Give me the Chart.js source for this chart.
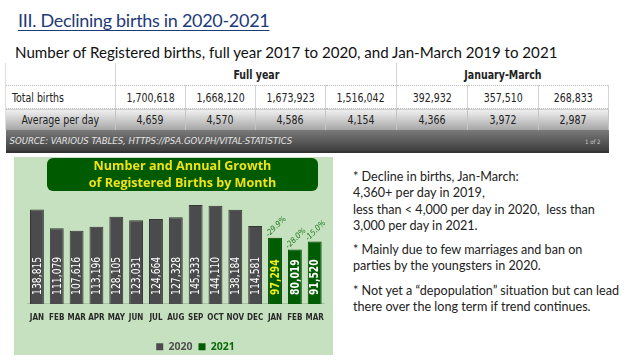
<!DOCTYPE html>
<html>
<head>
<meta charset="utf-8">
<script src="https://cdn.jsdelivr.net/npm/chart.js@4.4.1/dist/chart.umd.min.js"></script>
<style>
  html,body{margin:0;padding:0;background:#fff;}
  body{width:640px;height:362px;position:relative;overflow:hidden;font-family:'Lato','Open Sans',sans-serif;}
  #title{position:absolute;left:18px;top:9px;font-size:18px;letter-spacing:-0.3px;color:#1f3a78;text-decoration:underline;text-underline-offset:3px;white-space:nowrap;}
  #subtitle{position:absolute;left:15px;top:43px;font-size:15.1px;color:#111;white-space:nowrap;}
  table{position:absolute;left:5px;top:63px;border-collapse:collapse;table-layout:fixed;width:603px;
        font-family:'DejaVu Sans Condensed','Liberation Sans Narrow',sans-serif;font-size:12.5px;color:#222;}
  td{padding:0;text-align:center;white-space:nowrap;overflow:hidden;}
  td span.c{display:inline-block;transform:scaleX(0.84);}
  td span.l{display:inline-block;transform:scaleX(0.84);transform-origin:left center;}
  tr.h td{height:22px;font-weight:bold;border-bottom:1px dotted #bbb;}
  tr.t td{height:22px;border-bottom:1px dotted #bbb;border-right:1px solid #d4d4d4;}
  tr.a td{height:21px;background:linear-gradient(#f2f2f2,#a4a4a4);border-right:1px solid #c4c4c4;}
  tr.s td{height:21px;background:linear-gradient(#7a7a7a,#3e3e3e);color:#e4e4e4;font-style:italic;font-size:9.5px;text-align:left;padding-left:4px;border-bottom:2px solid #333;}
  .br{border-right:1px solid #d4d4d4;}
  #panel{position:absolute;left:14px;top:157px;width:319px;height:198px;background:#c6e1bf;}
  #chart{position:absolute;left:14px;top:157px;}
  #ctitle{position:absolute;left:47px;top:158px;width:271px;height:33px;background:#005a00;border-radius:6px;color:#f0e21a;
          font-family:'Open Sans',sans-serif;font-weight:bold;font-size:12.6px;line-height:16.5px;text-align:center;padding-top:0px;box-sizing:border-box;}
  #notes{position:absolute;left:353px;top:169px;width:287px;font-family:'Lato',sans-serif;font-size:12.6px;line-height:16.3px;color:#222;white-space:nowrap;}
  #notes p{margin:0 0 8px 0;}
</style>
</head>
<body>
<div id="title">III. Declining births in 2020-2021</div>
<div id="subtitle">Number of Registered births, full year 2017 to 2020, and Jan-March 2019 to 2021</div>

<table>
  <colgroup><col style="width:110px"><col style="width:70px"><col style="width:70px"><col style="width:70px"><col style="width:71px"><col style="width:71px"><col style="width:71px"><col style="width:70px"></colgroup>
  <tr class="h"><td class="br" style="border-left:1px solid #ddd"></td><td colspan="4" class="br"><span class="c">Full year</span></td><td colspan="3"><span class="c">January-March</span></td></tr>
  <tr class="t" id="rowTotal"></tr>
  <tr class="a" id="rowAvg"></tr>
  <tr class="s"><td colspan="8"><span>SOURCE: VARIOUS TABLES, HTTPS://PSA.GOV.PH/VITAL-STATISTICS</span><span style="float:right;font-size:6px;font-style:normal;padding-right:8px;padding-top:3px;color:#ccc">1 of 2</span></td></tr>
</table>

<div id="panel"></div>
<canvas id="chart" width="319" height="205"></canvas>
<div id="ctitle">Number and Annual Growth<br>of Registered Births by Month</div>

<div id="notes">
<p>* Decline in births, Jan-March:<br>4,360+ per day in 2019,<br>less than &lt; 4,000 per day in 2020,&nbsp; less than<br>3,000 per day in 2021.</p>
<p>* Mainly due to few marriages and ban on<br>parties by the youngsters in 2020.</p>
<p>* Not yet a “depopulation” situation but can lead<br>there over the long term if trend continues.</p>
</div>

<script>
// ---- table data ----
const tableRowLabels = ['Total births', 'Average per day'];
const totalBirths = ['1,700,618', '1,668,120', '1,673,923', '1,516,042', '392,932', '357,510', '268,833'];
const averagePerDay = ['4,659', '4,570', '4,586', '4,154', '4,366', '3,972', '2,987'];

// ---- chart data ----
const months = ['JAN','FEB','MAR','APR','MAY','JUN','JUL','AUG','SEP','OCT','NOV','DEC','JAN','FEB','MAR'];
const births2020 = [138815, 111079, 107616, 113196, 128105, 123031, 124664, 127328, 145333, 144110, 138184, 114581, null, null, null];
const births2021 = [null, null, null, null, null, null, null, null, null, null, null, null, 97294, 80019, 91520];
const growth2021 = [null, null, null, null, null, null, null, null, null, null, null, null, '-29.9%', '-28.0%', '-15.0%'];

function fillRow(id, label, vals, leftAlign) {
  const tr = document.getElementById(id);
  const first = document.createElement('td');
  first.innerHTML = '<span class="' + (leftAlign ? 'l' : 'c') + '"></span>';
  first.firstChild.textContent = label;
  first.style.borderLeft = '1px solid #ddd';
  if (leftAlign) { first.style.textAlign = 'left'; first.style.paddingLeft = '6px'; }
  tr.appendChild(first);
  vals.forEach((v) => {
    const td = document.createElement('td');
    td.innerHTML = '<span class="c"></span>';
    td.firstChild.textContent = v;
    tr.appendChild(td);
  });
}
fillRow('rowTotal', tableRowLabels[0], totalBirths, true);
fillRow('rowAvg', tableRowLabels[1], averagePerDay, false);

const FONT = '"DejaVu Sans Condensed", "Liberation Sans Narrow", sans-serif';

const valueLabels = {
  id: 'valueLabels',
  afterLayout(chart) {
    if (chart.legend) { chart.legend.left += 18; chart.legend.right += 18; }
  },
  afterDatasetsDraw(chart) {
    const ctx = chart.ctx;
    chart.data.datasets.forEach((ds, di) => {
      const meta = chart.getDatasetMeta(di);
      meta.data.forEach((el, i) => {
        const v = ds.data[i];
        if (v == null) return;
        ctx.save();
        ctx.translate(el.x + 0.5, el.base - 9);
        ctx.rotate(-Math.PI / 2);
        ctx.scale(0.82, 1);
        ctx.font = (di === 1 ? 'bold ' : '') + '12.5px ' + FONT;
        ctx.fillStyle = (di === 1 && i === 12) ? '#f2ec1c' : '#ffffff';
        ctx.textAlign = 'left';
        ctx.textBaseline = 'middle';
        ctx.fillText(v.toLocaleString('en-US'), 0, 0);
        ctx.restore();
        const g = growth2021[i];
        if (di === 1 && g) {
          ctx.save();
          ctx.translate(el.x + 1, el.y - 11);
          ctx.rotate(-Math.PI / 4);
          ctx.font = 'italic 8px ' + FONT;
          ctx.fillStyle = '#1f7a1f';
          ctx.textAlign = 'center';
          ctx.textBaseline = 'middle';
          ctx.fillText(g, 0, 0);
          ctx.restore();
        }
      });
    });
  }
};

new Chart(document.getElementById('chart'), {
  type: 'bar',
  data: {
    labels: months,
    datasets: [
      { label: '2020', data: births2020, backgroundColor: '#4b4b4d', borderColor: '#353535', borderWidth: 1 },
      { label: '2021', data: births2021, backgroundColor: '#005c00', borderColor: '#004200', borderWidth: 1 }
    ]
  },
  options: {
    responsive: false,
    animation: false,
    events: [],
    barPercentage: 0.7,
    categoryPercentage: 1,
    layout: { padding: { left: 13, right: 5, top: 38, bottom: 0 } },
    scales: {
      x: {
        stacked: true,
        grid: { display: false, drawTicks: false },
        border: { display: true, color: '#a8c4a2' },
        ticks: { padding: 9, maxRotation: 0, autoSkip: false, color: '#2a2a2a', font: { family: FONT, size: 8, weight: 'bold' } },
        afterFit(scale) { scale.height += 4; }
      },
      y: { display: false, stacked: true, min: 0, max: 160000 }
    },
    plugins: {
      title: { display: false },
      tooltip: { enabled: false },
      legend: {
        position: 'bottom',
        labels: {
          boxWidth: 7, boxHeight: 7, padding: 6,
          font: { size: 10.5, weight: 'bold', family: '"Open Sans", sans-serif' },
          generateLabels(chart) {
            const items = Chart.defaults.plugins.legend.labels.generateLabels(chart);
            items.forEach((it, k) => { it.fontColor = k === 0 ? '#505050' : '#0a6a0a'; it.lineWidth = 0; });
            return items;
          }
        }
      }
    }
  },
  plugins: [valueLabels]
});
</script>
</body>
</html>
